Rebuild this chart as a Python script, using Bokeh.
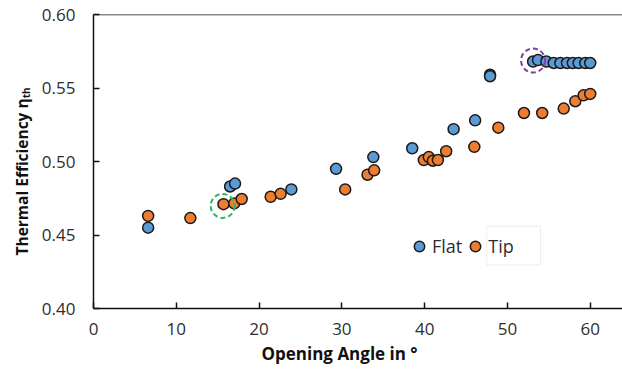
from bokeh.plotting import figure
from bokeh.models import (Range1d, Span, BoxAnnotation, Legend, LegendItem, FixedTicker,
                          Title, CustomJSTickFormatter)
from bokeh.embed import file_html
from bokeh.resources import INLINE

flat_angle = [6.6, 16.5, 17.1, 23.9, 29.3, 33.8, 38.5, 43.5, 46.1, 47.9, 47.9,
              53.1, 53.7, 54.7, 55.6, 56.4, 57.2, 57.9, 58.6, 59.4, 60.0]
flat_eff = [0.455, 0.483, 0.485, 0.481, 0.495, 0.503, 0.509, 0.522, 0.528, 0.559, 0.558,
            0.568, 0.569, 0.568, 0.567, 0.567, 0.567, 0.567, 0.567, 0.567, 0.567]

tip_angle = [6.6, 11.7, 15.7, 17.0, 17.9, 21.4, 22.6, 30.4, 33.1, 33.9, 39.9, 40.5,
             41.0, 41.6, 42.6, 46.0, 48.9, 52.0, 54.2, 56.8, 58.2, 59.2, 60.0]
tip_eff = [0.463, 0.4615, 0.471, 0.4715, 0.4745, 0.476, 0.478, 0.481, 0.491, 0.494, 0.501, 0.503,
           0.5005, 0.501, 0.507, 0.510, 0.523, 0.533, 0.533, 0.536, 0.541, 0.545, 0.546]

highlight_x = [15.6, 53.1]
highlight_y = [0.4698, 0.5687]
highlight_colors = ["#2db86a", "#8040a8"]

x_ticks = [0, 10, 20, 30, 40, 50, 60]
y_ticks = [0.40, 0.45, 0.50, 0.55, 0.60]

x_title = "Opening Angle in °"
y_title = "Thermal Efficiency ηₜₕ"

FONT = "Open Sans"

p = figure(width=622, height=378, output_backend="svg", toolbar_location=None,
           x_range=Range1d(0, 63.9), y_range=Range1d(0.40, 0.60),
           min_border_left=93, min_border_right=0, min_border_top=14, min_border_bottom=70)
p.outline_line_color = None
p.grid.grid_line_color = None
p.background_fill_color = "white"
p.border_fill_color = "white"

for ax in (p.xaxis[0], p.yaxis[0]):
    ax.axis_line_color = "#111111"
    ax.axis_line_width = 1.5
    ax.major_tick_line_color = "#111111"
    ax.major_tick_line_width = 1.5
    ax.major_tick_in = 6
    ax.major_tick_out = 0
    ax.minor_tick_line_color = None
    ax.major_label_text_font = FONT
    ax.major_label_text_font_size = "17px"
    ax.major_label_text_color = "#2e2e2e"

p.xaxis.ticker = FixedTicker(ticks=x_ticks)
p.yaxis.ticker = FixedTicker(ticks=y_ticks)
p.yaxis.formatter = CustomJSTickFormatter(code="return tick.toFixed(2);")
p.xaxis.major_label_standoff = 14
p.yaxis.major_label_standoff = 18

p.add_layout(Title(text=x_title, align="left", offset=168, standoff=4,
                   text_font=FONT, text_font_style="bold", text_font_size="17px",
                   text_color="#111111"), "below")
p.add_layout(Title(text=y_title, align="left", offset=53, standoff=11,
                   text_font=FONT, text_font_style="bold", text_font_size="15.5px",
                   text_color="#111111"), "left")

p.add_layout(Span(location=0.60, dimension="width", line_color="#111111", line_width=1.5))

p.add_layout(BoxAnnotation(left=47.5, right=54.0, bottom=0.4296, top=0.456,
                           fill_alpha=0, line_color="#c4c4c4", line_width=1))

r_flat = p.scatter(flat_angle, flat_eff, size=11, fill_color="#5b9bd5",
                   line_color="#1a1a1a", line_width=1.5)
r_tip = p.scatter(tip_angle, tip_eff, size=11, fill_color="#ed7d31",
                  line_color="#1a1a1a", line_width=1.5)

p.scatter(highlight_x, highlight_y, size=24, fill_alpha=0, line_color=highlight_colors,
          line_width=2, line_dash="5 3")

legend = Legend(items=[LegendItem(label="Flat", renderers=[r_flat]),
                       LegendItem(label="Tip", renderers=[r_tip])],
                orientation="horizontal", location=(313, 49))
legend.border_line_color = None
legend.background_fill_alpha = 0
legend.padding = 0
legend.margin = 0
legend.spacing = 0
legend.glyph_width = 26
legend.glyph_height = 26
legend.label_standoff = 0
legend.label_text_font = FONT
legend.label_text_font_size = "18px"
legend.label_text_color = "#2e2e2e"
p.add_layout(legend, "center")

open("out.html", "w").write(file_html(p, INLINE))
